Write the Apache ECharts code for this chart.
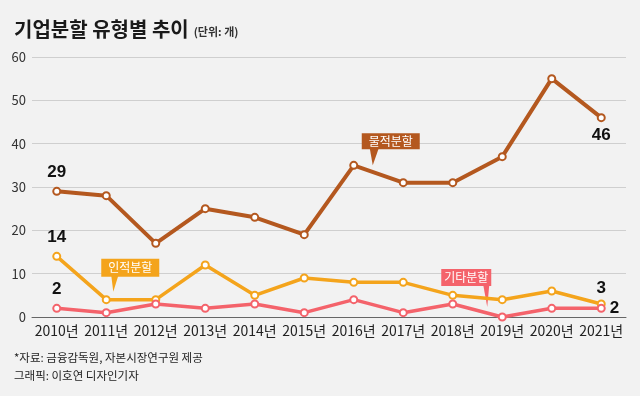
<!DOCTYPE html>
<html>
<head>
<meta charset="utf-8">
<script src="https://cdn.jsdelivr.net/npm/echarts@6/dist/echarts.min.js"></script>
<style>
  html, body { margin: 0; padding: 0; background: #f2f2f2; }
  #chart { width: 640px; height: 396px; }
</style>
</head>
<body>
<div id="chart"></div>
<script>
const years = ['2010년', '2011년', '2012년', '2013년', '2014년', '2015년',
  '2016년', '2017년', '2018년', '2019년', '2020년', '2021년'];
const physical = [29, 28, 17, 25, 23, 19, 35, 31, 31, 37, 55, 46];   // 물적분할
const personal = [14, 4, 4, 12, 5, 9, 8, 8, 5, 4, 6, 3];             // 인적분할
const others = [2, 1, 3, 2, 3, 1, 4, 1, 3, 0, 2, 2];                 // 기타분할
const yTicks = [0, 10, 20, 30, 40, 50, 60];

const FONT = "'Noto Sans CJK KR', 'Noto Sans', sans-serif";
const BROWN = '#b4581f';
const ORANGE = '#f4a41c';
const RED = '#f4636b';

// end labels: first and last value of each series
const withEnds = (arr, first, last) => arr.map((v, i) => {
  if (i === 0) return { value: v, label: Object.assign({ show: true }, first) };
  if (i === arr.length - 1) return { value: v, label: Object.assign({ show: true }, last) };
  return v;
});

const numLabel = {
  color: '#111', fontSize: 17, fontWeight: 'bold', fontFamily: 'Liberation Sans'
};

const chart = echarts.init(document.getElementById('chart'));

const lineSeries = (name, data, color, width) => ({
  name: name,
  type: 'line',
  data: data,
  symbol: 'circle',
  symbolSize: 7,
  itemStyle: { color: '#fff', borderColor: color, borderWidth: 2 },
  lineStyle: { color: color, width: width },
  label: Object.assign({ show: false }, numLabel),
  emphasis: { disabled: true },
  z: 3
});

chart.setOption({
  backgroundColor: '#f2f2f2',
  animation: false,
  title: [
    {
      text: '{a|기업분할 유형별 추이} {b|(단위: 개)}',
      left: 9, top: 14,
      textStyle: {
        rich: {
          a: { fontFamily: FONT, fontSize: 20, fontWeight: 'bold', color: '#1a1a1a' },
          b: { fontFamily: FONT, fontSize: 11, color: '#333', padding: [5, 0, 0, 0] }
        }
      }
    },
    {
      text: '*자료: 금융감독원, 자본시장연구원 제공',
      left: 9, top: 347,
      textStyle: { fontFamily: FONT, fontSize: 11.5, fontWeight: 'normal', color: '#222' }
    },
    {
      text: '그래픽: 이호연 디자인기자',
      left: 9, top: 365,
      textStyle: { fontFamily: FONT, fontSize: 11.5, fontWeight: 'normal', color: '#222' }
    }
  ],
  grid: { left: 32, right: 14, top: 57, bottom: 79 },
  xAxis: {
    type: 'category',
    data: years,
    boundaryGap: true,
    axisLine: { show: true, lineStyle: { color: '#666', width: 1 } },
    axisTick: { show: false },
    axisLabel: { fontFamily: FONT, fontSize: 14, color: '#222', margin: 7, interval: 0 }
  },
  yAxis: {
    type: 'value',
    min: yTicks[0],
    max: yTicks[yTicks.length - 1],
    interval: 10,
    axisLine: { show: false },
    axisTick: { show: false },
    splitLine: { lineStyle: { color: '#cfcfcf', width: 1 } },
    axisLabel: { fontFamily: FONT, fontSize: 13, color: '#333', margin: 6 }
  },
  series: [
    lineSeries('물적분할', withEnds(physical,
      { position: 'top', distance: 6 },
      { position: 'bottom', distance: 5 }), BROWN, 4),
    lineSeries('인적분할', withEnds(personal,
      { position: 'top', distance: 6 },
      { position: 'top', distance: 3 }), ORANGE, 3.5),
    lineSeries('기타분할', withEnds(others,
      { position: 'top', distance: 6 },
      { position: 'right', distance: 4 }), RED, 3.5)
  ]
});

// callout bubbles, anchored on data points through the chart scales
const callout = (text, color, yearIdx, value, dx, dy, box) => {
  const p = chart.convertToPixel({ gridIndex: 0 }, [yearIdx, value]);
  const tx = p[0] + dx, ty = p[1] + dy;
  const left = tx + box.ox, top = ty + box.oy, bb = top + box.h;
  return {
    type: 'group',
    z: 10,
    children: [
      { type: 'rect', shape: { x: left, y: top, width: box.w, height: box.h },
        style: { fill: color } },
      { type: 'polygon', shape: { points: [[tx + box.pl, bb - 1], [tx, ty], [tx + box.pr, bb - 1]] },
        style: { fill: color } },
      { type: 'text', style: {
          text: text, x: left + box.w / 2, y: top + box.h / 2,
          align: 'center', verticalAlign: 'middle',
          fill: '#fff', font: '12px ' + FONT } }
    ]
  };
};

chart.setOption({
  graphic: [
    callout('물적분할', BROWN, 6, physical[6], 19, 0,
      { ox: -11, oy: -32, w: 58, h: 16, pl: -3, pr: 6 }),
    callout('인적분할', ORANGE, 1, personal[1], 7, -8,
      { ox: -12, oy: -33, w: 58, h: 18, pl: -2, pr: 5 }),
    callout('기타분할', RED, 9, others[9], -15, -10,
      { ox: -46, oy: -38, w: 50, h: 17, pl: -4, pr: 2 })
  ]
});
</script>
</body>
</html>
